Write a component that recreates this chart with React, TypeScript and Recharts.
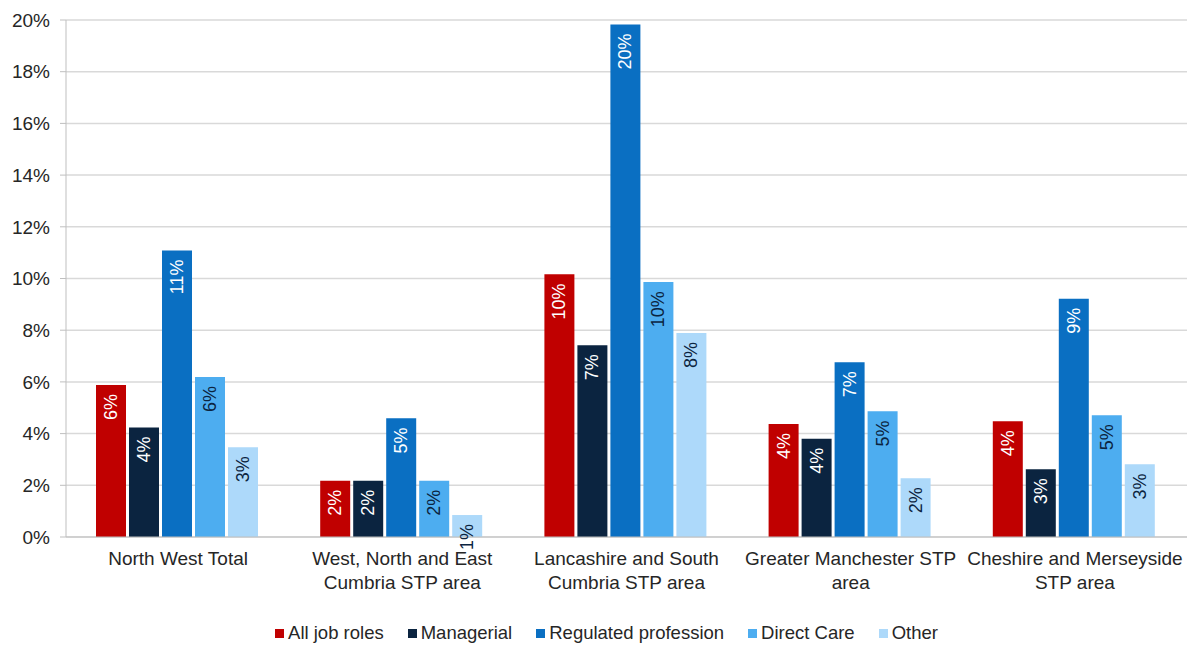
import { BarChart, Bar, XAxis, YAxis, CartesianGrid, Legend, LabelList } from 'recharts'

const CATEGORIES = [
  'North West Total',
  'West, North and East Cumbria STP area',
  'Lancashire and South Cumbria STP area',
  'Greater Manchester STP area',
  'Cheshire and Merseyside STP area',
]
const TICK_LINES = [
  ['North West Total'],
  ['West, North and East', 'Cumbria STP area'],
  ['Lancashire and South', 'Cumbria STP area'],
  ['Greater Manchester STP', 'area'],
  ['Cheshire and Merseyside', 'STP area'],
]
const ALL_JOB_ROLES = [5.88, 2.18, 10.16, 4.37, 4.48]
const MANAGERIAL = [4.24, 2.18, 7.42, 3.8, 2.62]
const REGULATED = [11.08, 4.59, 19.83, 6.76, 9.22]
const DIRECT_CARE = [6.19, 2.18, 9.86, 4.86, 4.71]
const OTHER = [3.47, 0.85, 7.89, 2.27, 2.81]
const Y_TICKS = [0, 2, 4, 6, 8, 10, 12, 14, 16, 18, 20]

const SERIES = [
  { key: 'all', name: 'All job roles', color: '#C00000', text: '#ffffff', values: ALL_JOB_ROLES },
  { key: 'man', name: 'Managerial', color: '#0B2440', text: '#ffffff', values: MANAGERIAL },
  { key: 'reg', name: 'Regulated profession', color: '#0A6FC2', text: '#ffffff', values: REGULATED },
  { key: 'dc', name: 'Direct Care', color: '#4DADF0', text: '#0B2440', values: DIRECT_CARE },
  { key: 'oth', name: 'Other', color: '#ADD9FA', text: '#0B2440', values: OTHER },
]

const rows = CATEGORIES.map((cat, i) => {
  const r: Record<string, string | number> = { cat }
  SERIES.forEach(s => { r[s.key] = s.values[i] })
  return r
})

const FONT = 'Arial, "Liberation Sans", sans-serif'

function CatTick({ x, y, payload }: any) {
  const lines = TICK_LINES[payload.index] ?? [payload.value]
  return (
    <text x={x} y={y + 20} textAnchor="middle" fontSize={19} fill="#262626" fontFamily={FONT}>
      {lines.map((l, i) => (
        <tspan key={i} x={x} dy={i === 0 ? 0 : 24}>{l}</tspan>
      ))}
    </text>
  )
}

const barLabel = (color: string) => (props: any) => {
  const { x, y, width, value } = props
  const cx = x + width / 2
  const cy = y + 9
  return (
    <text x={cx} y={cy} transform={`rotate(-90 ${cx} ${cy})`} textAnchor="end" dominantBaseline="central"
      fontSize={18} fill={color} fontFamily={FONT}>
      {Math.round(value)}%
    </text>
  )
}

function LegendBox() {
  return (
    <div style={{ display: 'flex', justifyContent: 'center', alignItems: 'center', gap: 24, height: 26, paddingLeft: 26, fontFamily: FONT, fontSize: 18.5, color: '#262626' }}>
      {SERIES.map(s => (
        <div key={s.key} style={{ display: 'flex', alignItems: 'center' }}>
          <span style={{ width: 9, height: 9, background: s.color, display: 'inline-block', marginRight: 4 }} />
          {s.name}
        </div>
      ))}
    </div>
  )
}

export default function App() {
  return (
    <div style={{ position: 'absolute', left: 0, top: 0, background: '#fff' }}>
      <BarChart width={1187} height={646} data={rows} margin={{ top: 20, right: 0, left: 0, bottom: 0 }}
        barCategoryGap={30} barGap={3}>
        <CartesianGrid vertical={false} stroke="#d9d9d9" strokeWidth={1.5} />
        <XAxis dataKey="cat" height={83} tick={<CatTick />} tickLine={false} axisLine={{ stroke: '#bfbfbf' }} interval={0} />
        <YAxis width={66} domain={[0, 20]} ticks={Y_TICKS} tickFormatter={v => `${v}%`} tickSize={6} tickMargin={10}
          tick={{ fontSize: 19, fill: '#262626', fontFamily: FONT }} axisLine={{ stroke: '#bfbfbf' }} tickLine={{ stroke: '#bfbfbf' }} />
        <Legend verticalAlign="bottom" content={<LegendBox />} />
        {SERIES.map(s => (
          <Bar key={s.key} dataKey={s.key} name={s.name} fill={s.color} isAnimationActive={false}>
            <LabelList dataKey={s.key} content={barLabel(s.text)} />
          </Bar>
        ))}
      </BarChart>
    </div>
  )
}
